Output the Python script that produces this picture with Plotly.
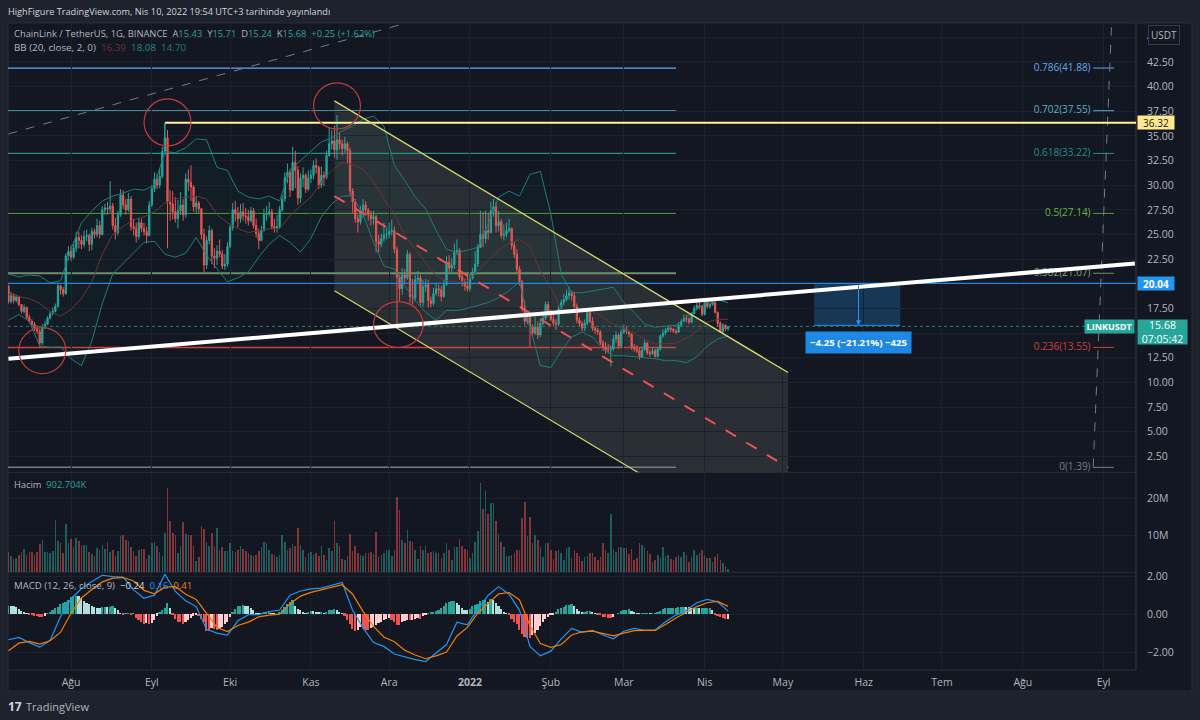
import pandas as pd
import plotly.graph_objects as go
from plotly.subplots import make_subplots

# daily candles, one row per month (Jul 8 2021 - Apr 10 2022)
opens = [
    19.8,18.2,18.9,18.3,18.7,17.9,17.2,17.6,16.6,16.2,15.9,15.5,15.2,14.0,15.6,15.9,16.5,17.0,17.2,17.7,19.8,19.4,19.0,22.8,
    23.3,22.7,23.6,24.7,24.4,24.0,24.8,24.9,24.0,25.3,25.0,25.9,25.0,27.5,27.7,27.6,27.9,25.9,25.2,27.0,29.0,28.0,27.5,28.6,25.8,25.6,24.8,26.2,25.6,25.3,24.9,
    28.0,29.6,30.6,30.0,30.9,33.4,34.8,28.3,28.1,27.3,26.6,27.4,28.0,27.0,30.6,30.3,29.8,27.8,28.2,27.6,25.0,21.9,24.4,25.4,22.8,22.6,23.3,23.0,21.8,22.0,
    23.8,25.7,27.5,27.1,26.6,27.3,26.9,26.8,26.4,27.4,25.9,25.1,24.4,25.4,27.0,27.1,27.3,25.8,25.6,25.8,27.5,28.6,30.8,31.3,29.5,32.3,31.5,28.7,30.7,31.0,29.6,
    30.7,31.0,32.0,31.8,30.0,31.0,30.8,33.0,34.2,34.5,33.6,34.6,34.2,33.7,34.2,33.5,29.4,28.3,26.6,26.3,27.4,28.0,27.5,27.0,26.6,26.8,24.3,24.0,24.6,25.0,
    25.0,25.3,25.4,23.5,20.7,19.5,20.9,20.6,23.0,18.7,18.6,20.4,20.6,18.1,19.7,19.9,18.3,18.0,19.0,19.5,19.4,18.7,19.9,22.2,21.6,21.9,23.2,23.4,20.7,20.2,19.8,
    19.5,20.6,21.2,22.0,23.7,25.0,24.6,25.4,25.2,27.4,27.8,25.9,26.3,24.9,25.0,25.4,25.6,23.9,23.0,21.5,20.2,17.6,16.2,16.6,15.7,15.0,15.6,14.8,16.0,16.5,17.9,
    17.0,16.4,16.0,15.9,17.5,18.1,18.4,18.8,19.1,18.8,17.7,16.3,15.95,15.5,16.0,17.1,16.2,15.5,15.3,15.1,14.0,13.6,13.3,13.3,13.4,14.4,14.8,13.7,
    15.1,15.4,15.2,14.9,13.6,13.4,13.2,12.6,13.3,14.0,13.0,12.9,13.2,12.65,13.4,14.7,15.0,15.3,15.5,15.4,15.2,15.1,15.8,16.2,16.5,16.4,16.1,17.0,17.5,17.8,17.7,
    16.9,18.1,17.7,17.9,18.1,17.1,16.0,15.1,15.8,15.43,
]
highs = [
    19.9,19.2,19.0,18.9,18.8,17.9,17.9,17.7,16.9,16.4,16.1,15.8,15.4,15.9,16.2,16.7,17.2,17.6,18.0,20.0,19.9,19.7,23.1,23.8,
    23.9,24.3,25.3,25.3,24.9,25.4,25.5,25.1,25.7,25.6,26.6,26.4,27.9,28.1,28.3,30.4,28.2,26.7,27.4,29.6,29.5,28.6,29.2,28.9,26.6,26.2,26.7,26.6,26.2,25.8,28.4,
    30.0,31.3,31.2,31.7,33.9,36.3,35.6,29.5,29.4,28.8,28.5,29.3,28.6,31.2,31.6,32.0,30.0,28.9,28.4,27.7,25.6,24.8,25.9,25.6,23.6,23.9,24.5,23.4,23.0,24.2,
    26.0,28.2,28.4,27.8,28.1,28.2,27.7,27.5,27.8,27.7,26.6,25.6,25.9,27.6,27.9,28.3,27.6,26.6,27.0,27.9,29.0,31.3,32.2,31.6,33.9,33.5,31.9,31.2,31.8,31.2,31.5,
    31.6,32.5,32.7,32.0,31.9,31.4,33.5,35.9,35.6,36.0,37.1,35.3,34.6,34.9,34.4,33.8,29.7,28.6,27.0,27.9,28.6,28.4,27.7,27.4,27.4,27.0,25.0,25.1,26.2,25.7,
    26.2,26.5,25.8,23.8,20.9,21.6,21.5,23.4,23.2,20.5,20.9,21.3,20.9,20.4,20.5,20.4,18.7,19.6,20.1,19.9,19.8,20.4,22.8,22.9,22.6,24.1,24.5,23.6,21.1,20.5,21.0,
    21.0,21.6,23.3,24.0,27.4,27.3,27.4,27.2,28.3,28.6,28.3,27.4,26.6,26.0,26.2,26.6,25.7,24.3,23.5,21.8,20.4,18.3,17.0,16.8,15.9,16.6,16.2,16.5,16.9,18.2,18.2,
    17.4,17.1,16.4,17.8,18.4,19.0,19.4,19.7,19.3,19.2,18.0,16.6,16.2,16.4,17.3,17.2,16.6,15.7,15.5,15.3,14.3,14.1,13.9,13.8,14.8,15.2,15.0,15.4,
    15.9,15.7,15.2,15.0,13.9,13.8,13.5,13.6,14.3,14.1,13.3,13.5,13.4,13.6,14.9,15.4,15.5,15.8,15.7,15.5,15.4,16.1,16.4,16.9,16.9,16.6,17.1,17.8,18.1,18.3,17.8,
    18.2,18.2,18.1,18.4,18.3,17.2,16.2,16.0,15.9,15.71,
]
lows = [
    18.0,18.0,18.0,18.1,17.7,17.0,17.0,16.4,16.0,15.6,15.2,14.9,13.55,13.8,15.4,15.8,16.4,16.8,17.1,17.6,18.9,18.7,18.9,22.4,
    22.3,22.5,23.2,23.6,23.5,23.7,24.3,23.3,23.4,24.6,24.7,24.6,24.9,27.0,27.0,27.2,25.5,24.5,24.9,26.8,27.6,27.0,27.3,25.4,24.9,24.2,24.5,25.2,24.9,24.1,24.8,
    27.8,29.3,29.6,29.7,30.7,33.0,23.6,26.4,26.5,26.2,25.6,27.0,26.4,26.7,29.4,28.4,27.3,27.1,27.1,24.5,21.2,21.5,24.0,22.0,21.6,21.9,22.7,21.5,21.4,21.7,
    23.6,25.4,26.3,25.7,26.2,26.4,26.1,25.9,26.2,25.6,24.7,23.5,24.3,25.3,26.4,26.8,25.5,25.2,25.2,25.6,27.3,28.3,30.2,28.8,29.4,29.7,28.0,28.2,29.8,29.2,29.4,
    30.2,30.6,31.2,29.6,29.7,29.9,30.6,32.9,33.6,32.8,32.6,33.6,33.0,33.3,32.2,28.9,27.2,26.2,25.2,26.0,26.7,26.9,26.4,25.9,26.0,23.2,23.2,23.7,24.3,24.5,
    24.6,24.9,23.1,15.9,18.3,18.9,20.0,20.4,18.0,17.9,18.2,20.0,17.8,17.7,19.2,17.6,17.6,17.8,18.8,18.7,18.2,18.6,19.8,21.2,21.2,21.5,22.9,20.4,19.7,19.3,19.2,
    19.2,20.4,20.9,21.7,24.2,23.7,24.1,24.5,25.1,26.8,25.2,25.3,24.6,24.4,24.7,25.2,23.5,22.6,21.1,19.8,17.2,15.8,15.9,13.6,14.6,14.8,14.4,14.6,15.8,16.3,16.7,
    16.2,15.7,15.3,15.7,17.3,17.8,18.2,18.4,18.3,17.4,16.0,15.7,15.2,15.2,15.8,16.0,15.2,14.9,14.8,13.8,13.2,12.9,12.9,11.6,13.2,14.0,13.4,13.5,
    14.9,14.9,14.6,13.3,13.1,13.0,12.3,12.5,13.2,12.8,12.6,12.8,12.5,12.5,13.2,14.5,14.8,15.1,15.1,15.0,14.9,15.0,15.7,16.1,16.1,15.9,16.0,16.9,17.3,17.4,16.7,
    16.8,17.5,17.5,17.8,17.0,15.7,15.0,14.9,15.2,15.24,
]
closes = [
    18.2,18.9,18.3,18.7,17.9,17.2,17.6,16.6,16.2,15.9,15.5,15.2,14.0,15.6,15.9,16.5,17.0,17.2,17.7,19.8,19.4,19.0,22.8,23.3,
    22.7,23.6,24.7,24.4,24.0,24.8,24.9,24.0,25.3,25.0,25.9,25.0,27.5,27.7,27.6,27.9,25.9,25.2,27.0,29.0,28.0,27.5,28.6,25.8,25.6,24.8,26.2,25.6,25.3,24.9,28.0,
    29.6,30.6,30.0,30.9,33.4,34.8,28.3,28.1,27.3,26.6,27.4,28.0,27.0,30.6,30.3,29.8,27.8,28.2,27.6,25.0,21.9,24.4,25.4,22.8,22.6,23.3,23.0,21.8,22.0,23.8,
    25.7,27.5,27.1,26.6,27.3,26.9,26.8,26.4,27.4,25.9,25.1,24.4,25.4,27.0,27.1,27.3,25.8,25.6,25.8,27.5,28.6,30.8,31.3,29.5,32.3,31.5,28.7,30.7,31.0,29.6,30.7,
    31.0,32.0,31.8,30.0,31.0,30.8,33.0,34.2,34.5,33.6,34.6,34.2,33.7,34.2,33.5,29.4,28.3,26.6,26.3,27.4,28.0,27.5,27.0,26.6,26.8,24.3,24.0,24.6,25.0,25.0,
    25.3,25.4,23.5,20.7,19.5,20.9,20.6,23.0,18.7,18.6,20.4,20.6,18.1,19.7,19.9,18.3,18.0,19.0,19.5,19.4,18.7,19.9,22.2,21.6,21.9,23.2,23.4,20.7,20.2,19.8,19.5,
    20.6,21.2,22.0,23.7,25.0,24.6,25.4,25.2,27.4,27.8,25.9,26.3,24.9,25.0,25.4,25.6,23.9,23.0,21.5,20.2,17.6,16.2,16.6,15.7,15.0,15.6,14.8,16.0,16.5,17.9,17.0,
    16.4,16.0,15.9,17.5,18.1,18.4,18.8,19.1,18.8,17.7,16.3,15.95,15.5,16.0,17.1,16.2,15.5,15.3,15.1,14.0,13.6,13.3,13.3,13.4,14.4,14.8,13.7,15.1,
    15.4,15.2,14.9,13.6,13.4,13.2,12.6,13.3,14.0,13.0,12.9,13.2,12.65,13.4,14.7,15.0,15.3,15.5,15.4,15.2,15.1,15.8,16.2,16.5,16.4,16.1,17.0,17.5,17.8,17.7,16.9,
    18.1,17.7,17.9,18.1,17.1,16.0,15.1,15.8,15.43,15.68,
]
# volume in millions
volume = [
    5.4,4.4,3.6,3.8,4.5,5.5,6.3,4.5,5.4,5.4,4.5,5.3,7.6,8.7,5.5,5.4,5.2,5.6,14.0,8.3,7.7,5.0,13.0,7.7,
    8.8,6.7,9.2,8.3,7.0,7.4,7.4,5.4,4.8,4.2,6.4,5.9,7.3,6.2,8.0,5.3,6.0,4.4,5.6,9.6,10.0,8.7,8.5,6.7,5.6,4.4,6.0,6.3,6.2,3.5,4.6,
    7.8,8.0,7.0,5.3,4.4,10.5,22.7,13.7,10.5,9.9,5.1,7.1,13.5,10.4,9.9,9.9,7.1,2.9,4.1,12.3,11.6,8.0,6.9,10.5,6.8,12.0,6.0,6.7,5.6,5.6,
    7.7,5.6,5.3,5.8,7.1,6.2,5.6,5.1,4.6,4.2,4.7,5.6,6.8,8.0,7.7,6.0,4.9,4.7,4.1,4.7,10.0,8.0,6.0,6.5,7.6,6.9,11.9,7.4,5.8,4.1,5.1,
    5.3,4.7,5.1,4.2,6.9,4.7,3.2,6.5,5.6,13.7,7.7,6.9,3.5,3.2,4.4,10.4,5.6,7.1,5.1,4.7,4.4,5.1,5.0,5.3,4.8,10.8,4.1,4.7,5.1,6.0,
    5.8,4.2,6.0,20.4,16.8,8.7,7.7,11.3,8.3,8.0,5.9,3.5,7.1,5.8,7.1,5.1,5.4,5.6,5.1,5.1,3.8,5.1,7.7,5.9,3.3,6.7,6.7,9.0,7.1,6.2,5.9,
    3.8,5.1,8.1,11.0,24.1,17.0,22.0,15.7,18.6,18.6,13.7,10.4,8.0,6.7,4.4,4.4,4.7,5.1,5.9,5.9,14.6,18.9,9.6,14.9,7.7,9.9,8.7,6.7,4.0,7.7,7.7,
    6.0,3.5,5.6,6.0,5.1,3.3,6.5,6.7,3.8,6.0,5.0,4.4,2.9,4.1,4.2,5.1,5.0,4.1,3.3,4.1,7.7,6.0,5.1,15.8,6.3,5.4,6.8,6.7,
    6.5,6.5,4.9,6.3,3.2,3.8,7.7,7.2,6.8,5.6,4.9,2.7,3.1,4.7,3.8,6.7,4.2,4.5,3.5,3.2,4.0,4.7,4.1,5.3,4.7,2.7,4.0,6.0,4.7,5.1,5.8,
    4.7,3.8,3.8,2.6,4.1,4.9,3.1,2.4,1.7,0.9,
]
macd_hist = [
    .44,.42,.40,.35,.25,.15,.1,.05,-.03,-.07,-.1,-.12,-.15,-.18,-.1,.05,.12,.2,.3,.35,.5,.6,.65,.75,
    .9,.95,.97,.93,.85,.7,.6,.5,.4,.35,.33,.3,.35,.38,.37,.38,.4,.3,.2,.03,-.03,.02,.02,-.02,.02,-.2,-.3,-.45,-.52,-.5,-.55,
    -.5,-.3,-.1,.1,.22,.3,.6,.33,-.05,-.25,-.4,-.45,-.55,-.45,-.3,-.2,-.1,-.08,-.12,-.25,-.4,-.9,-.9,-.75,-.8,-.85,-.8,-.7,-.55,-.4,
    -.18,.08,.25,.4,.42,.45,.42,.4,.3,.2,.05,.02,.03,.1,.12,.12,.05,.02,.0,.1,.2,.35,.55,.65,.72,.4,.25,.2,.12,.05,.12,
    .15,.13,.1,.08,.1,.05,.12,.2,.22,.25,.2,.12,.05,-.1,-.3,-.55,-.8,-.9,-.85,-.7,-.75,-.85,-.85,-.75,-.7,-.6,-.5,-.4,-.3,-.25,
    -.2,-.3,-.45,-.6,-.6,-.45,-.35,-.3,-.33,-.3,-.25,-.2,-.25,-.1,-.02,.05,.08,.12,.15,.2,.3,.42,.58,.63,.68,.7,.6,.45,.3,.22,.2,
    .25,.4,.45,.5,.7,.72,.75,.65,.78,.75,.6,.42,.25,.12,.05,-.08,-.25,-.4,-.55,-.85,-1.05,-1.2,-1.25,-1.25,-1.12,-1.0,-.85,-.65,-.45,-.25,-.15,
    -.08,-.03,.1,.25,.3,.37,.45,.48,.5,.42,.25,.15,.1,.1,.14,.14,.08,.02,-.02,-.04,-.15,-.18,-.2,-.22,-.17,.0,.04,.15,
    .2,.2,.25,.15,.1,.05,.02,.02,.03,.05,.04,.04,.05,.12,.18,.25,.3,.32,.33,.33,.34,.36,.37,.37,.36,.35,.33,.32,.32,.3,.3,
    .3,.3,.3,.2,-.05,-.12,-.17,-.22,-.25,-.24,
]

# indicator lines read every 4th day
bb_upper = [21.0,20.7,20.9,20.8,20.1,20.3,23.5,26.2,27.4,28.4,28.9,29.2,29.6,29.5,30.0,33.4,33.3,33.8,34.7,34.6,
            31.8,31.5,29.4,28.8,28.6,28.9,28.4,31.6,32.5,33.5,34.4,34.8,35.5,36.0,36.7,37.0,36.0,32.0,30.5,28.8,
            27.6,25.4,23.5,23.2,23.4,23.7,26.1,28.8,29.4,28.9,31.1,31.4,27.1,21.0,19.1,19.1,19.3,19.5,19.65,18.1,
            17.1,15.9,15.6,15.7,15.8,16.6,17.5,18.1,18.4,18.08]
bb_basis = [18.9,18.7,18.5,18.0,17.2,16.7,17.4,18.5,20.2,23.0,25.0,25.8,26.5,26.8,27.3,28.2,28.6,28.8,28.9,28.6,
            27.0,26.2,25.6,25.2,25.4,25.6,25.6,26.9,27.9,28.8,30.3,31.5,32.3,32.1,31.6,30.4,28.6,27.1,24.9,23.5,
            22.1,20.8,20.3,20.2,20.3,21.4,22.4,23.4,24.1,24.5,23.8,21.3,19.6,17.5,17.3,17.4,17.2,16.6,15.9,15.4,
            15.0,14.4,13.9,13.9,14.0,14.5,15.2,16.1,16.4,16.39]
bb_lower = [16.3,16.9,16.2,13.7,13.55,13.6,12.4,11.7,14.2,18.0,21.0,22.1,23.2,24.2,24.3,23.0,22.7,23.1,24.7,22.9,
            21.5,20.2,20.6,21.2,22.7,24.0,24.9,24.2,23.2,24.6,26.8,28.1,28.9,28.9,27.0,24.2,21.8,21.5,19.8,18.3,
            17.1,16.3,17.3,17.3,17.5,17.8,18.1,18.6,19.3,20.2,15.6,11.7,11.5,13.2,14.6,15.1,14.6,13.4,12.7,12.7,
            12.6,12.5,12.4,12.2,12.2,12.0,12.6,13.7,14.4,14.70]
macd_line = [-1.35,-1.23,-1.5,-1.74,-1.38,-.12,.8,1.35,1.72,2.05,1.98,1.95,1.28,.84,1.0,2.1,1.2,.7,.4,-.8,
             -1.0,-1.1,-.35,-.03,-.02,.14,.22,1.0,1.22,1.33,1.37,1.5,1.67,.2,-.72,-1.5,-1.7,-2.1,-2.25,-2.4,
             -2.5,-2.05,-1.6,-.42,-.56,.25,1.0,1.45,1.05,.2,-1.7,-2.2,-1.95,-1.3,-.75,-.96,-.85,-1.1,-1.3,-.9,
             -.75,-.85,-.83,-.4,-.05,.2,.6,.78,.65,.16]
macd_signal = [-1.93,-1.53,-1.44,-1.58,-1.4,-.95,.05,.85,1.3,1.7,1.9,1.93,1.75,1.25,1.07,1.42,1.45,1.05,.78,.05,
               -.7,-.92,-.6,-.42,-.14,-.05,.0,.55,.95,1.15,1.28,1.4,1.55,1.05,.15,-.65,-1.2,-1.45,-1.9,-2.15,
               -2.35,-2.2,-2.0,-1.15,-.7,.05,.55,1.07,1.14,.75,-.6,-1.55,-1.75,-1.6,-1.1,-.93,-.9,-1.0,-1.14,-1.0,
               -.87,-.86,-.86,-.55,-.2,.1,.4,.6,.67,.41]

# drawings on the chart
fib_levels = [41.88, 37.55, 33.22, 27.14, 21.07, 13.55, 1.39]
fib_labels = ["0.786(41.88)", "0.702(37.55)", "0.618(33.22)", "0.5(27.14)", "0.382(21.07)", "0.236(13.55)", "0(1.39)"]
fib_end = "2022-03-21"
channel_dates = ["2021-11-10", "2022-05-03"]
channel_top = [38.55, 11.0]
channel_mid = [28.9, 1.37]
channel_bottom = [19.3, -8.25]
trend_dates = ["2021-07-08", "2022-09-13"]
trend_prices = [12.4, 22.05]
high_line = 36.32
high_date = "2021-09-06"
high_wick_low = 33.6
blue_line = 20.04
last_price = 15.68
measure_dates = ["2022-05-13", "2022-06-15"]
measure_mid = "2022-05-30"
measure_prices = [20.04, 15.79]
measure_label_price = 14.05
ray1_dates = ["2021-07-08", "2021-12-07"]
ray1_prices = [35.2, 46.4]
ray2_dates = ["2022-08-28", "2022-09-04"]
ray2_prices = [1.39, 46.0]
fib_tick_dates = ["2022-08-28", "2022-09-05"]
circle_dates = [("2021-07-12", "2021-07-30"), ("2021-08-29", "2021-09-16"), ("2021-11-02", "2021-11-20"), ("2021-11-25", "2021-12-14")]
circle_prices = [(15.56, 10.9), (38.75, 33.99), (40.37, 35.7), (18.2, 13.54)]

# axis ticks
month_dates = ["2021-08-01", "2021-09-01", "2021-10-01", "2021-11-01", "2021-12-01", "2022-01-01", "2022-02-01",
               "2022-03-01", "2022-04-01", "2022-05-01", "2022-06-01", "2022-07-01", "2022-08-01", "2022-09-01"]
month_labels = ["Ağu", "Eyl", "Eki", "Kas", "Ara", "<b>2022</b>", "Şub", "Mar", "Nis", "May", "Haz", "Tem", "Ağu", "Eyl"]
price_ticks = [2.5, 5, 7.5, 10, 12.5, 15, 17.5, 20, 22.5, 25, 27.5, 30, 32.5, 35, 37.5, 40, 42.5, 45]
price_tick_labels = ["2.50", "5.00", "7.50", "10.00", "12.50", "", "17.50", "", "22.50", "25.00", "27.50", "30.00",
                     "32.50", "35.00", "37.50", "40.00", "42.50", "4"]

assert len(opens) == len(highs) == len(lows) == len(closes) == len(volume) == len(macd_hist) == 277, (
    len(opens), len(highs), len(lows), len(closes), len(volume), len(macd_hist))

dates = pd.date_range("2021-07-08", periods=len(closes))
line_dates = dates[::4]

BG = "#131722"
OUTER = "#1e222d"
GRID = "#1d212c"
TEXT = "#b2b5be"
UP = "#26a69a"
DOWN = "#ef5350"
FONT = "Open Sans"
fib_colors = ["#64a8f0", "#55b4c8", "#1f9186", "#4f9e3a", "#6f8f68", "#d0403c", "#787b86"]
fib_widths = [1.2, 1.2, 1.2, 1, 2, 1.5, 1.5]


def py(y):
    # the page draws the figure about 3px lower at the top
    return 1 - (y - 3) / 717


fig = make_subplots(rows=3, cols=1, shared_xaxes=True)

# bollinger bands
fig.add_trace(go.Scatter(x=line_dates, y=bb_upper, mode="lines", line=dict(color="#1f7f76", width=1), hoverinfo="skip"), row=1, col=1)
fig.add_trace(go.Scatter(x=line_dates, y=bb_lower, mode="lines", line=dict(color="#1f7f76", width=1),
                         fill="tonexty", fillcolor="rgba(38,166,154,0.04)", hoverinfo="skip"), row=1, col=1)
fig.add_trace(go.Scatter(x=line_dates, y=bb_basis, mode="lines", line=dict(color="#6e3438", width=1), hoverinfo="skip"), row=1, col=1)

fig.add_trace(go.Candlestick(x=dates, open=opens, high=highs, low=lows, close=closes,
                             increasing=dict(line=dict(color=UP, width=1), fillcolor=UP),
                             decreasing=dict(line=dict(color=DOWN, width=1), fillcolor=DOWN),
                             whiskerwidth=0), row=1, col=1)

# fib labels as a trace so the white trend line passes over them
fib_label_dates = ["2022-08-27"] * len(fib_levels)
label_colors = ["#64a8f0", "#55b4c8", "#1f9186", "#62b83e", "#7f9f78", "#d0403c", "#787b86"]
fig.add_trace(go.Scatter(x=fib_label_dates, y=fib_levels, mode="text", text=fib_labels, textposition="middle left",
                         textfont=dict(color=label_colors, size=10, family=FONT), hoverinfo="skip"), row=1, col=1)

vol_colors = ["rgba(38,166,154,0.5)" if c >= o else "rgba(239,83,80,0.5)" for o, c in zip(opens, closes)]
fig.add_trace(go.Bar(x=dates, y=volume, marker=dict(color=vol_colors, line_width=0), width=86400000 * 0.6), row=2, col=1)

hist_colors = []
for i, v in enumerate(macd_hist):
    prev = macd_hist[i - 1] if i else v
    if v >= 0:
        hist_colors.append(UP if v >= prev else "#b2dfdb")
    else:
        hist_colors.append(DOWN if v <= prev else "#ffcdd2")
fig.add_trace(go.Bar(x=dates, y=macd_hist, marker=dict(color=hist_colors, line_width=0), width=86400000 * 0.65), row=3, col=1)
fig.add_trace(go.Scatter(x=line_dates, y=macd_line, mode="lines", line=dict(color="#2196f3", width=1.2), hoverinfo="skip"), row=3, col=1)
fig.add_trace(go.Scatter(x=line_dates, y=macd_signal, mode="lines", line=dict(color="#f57c00", width=1.2), hoverinfo="skip"), row=3, col=1)

x_range = ["2021-07-07 20:00", "2022-09-13 10:00"]
x_domain = [8 / 1200, 1136 / 1200]
fig.update_xaxes(range=x_range, domain=x_domain, tickvals=month_dates, ticktext=month_labels, tickangle=0,
                 showgrid=True, gridcolor=GRID, gridwidth=1, zeroline=False, showline=False,
                 ticks="outside", ticklen=2, tickcolor="rgba(0,0,0,0)",
                 rangeslider_visible=False, tickfont=dict(color=TEXT, size=10.5, family=FONT))
fig.update_yaxes(side="right", showgrid=True, gridcolor=GRID, gridwidth=1, zeroline=False, showline=False,
                 ticks="outside", ticklen=8, tickcolor="rgba(0,0,0,0)", tickfont=dict(color=TEXT, size=10.5, family=FONT))
fig.update_yaxes(range=[0.88, 46.45], domain=[py(472), py(22)], tickvals=price_ticks, ticktext=price_tick_labels, row=1, col=1)
fig.update_yaxes(range=[0, 26.8], domain=[py(572), py(473)], tickvals=[10, 20], ticktext=["10M", "20M"], row=2, col=1)
fig.update_yaxes(range=[-2.947, 2.158], domain=[py(670), py(573)], tickvals=[-2, 0, 2], ticktext=["−2.00", "0.00", "2.00"], row=3, col=1)

shapes = []
# chart background and pane separators
shapes.append(dict(type="rect", xref="paper", yref="paper", x0=8 / 1200, x1=1192 / 1200, y0=py(691), y1=py(22),
                   fillcolor=BG, line=dict(color="#2a2e39", width=1), layer="below"))
for sep_y in (472, 572, 670):
    shapes.append(dict(type="line", xref="paper", yref="paper", x0=8 / 1200, x1=1136 / 1200, y0=py(sep_y), y1=py(sep_y),
                       line=dict(color="#2a2e39", width=1), layer="below"))
shapes.append(dict(type="line", xref="paper", yref="paper", x0=1136 / 1200, x1=1136 / 1200, y0=py(670), y1=py(22),
                   line=dict(color="#363a45", width=1), layer="above"))

# channel fill
path = "M {0},{2} L {1},{3} L {1},{4} L {0},{5} Z".format(channel_dates[0], channel_dates[1], channel_top[0], channel_top[1],
                                                          channel_bottom[1], channel_bottom[0])
shapes.append(dict(type="path", xref="x", yref="y", path=path, fillcolor="rgba(125,135,125,0.22)", line=dict(width=0), layer="below"))

# fib levels, left part and the short ticks on the right
for level, color, width in zip(fib_levels, fib_colors, fib_widths):
    shapes.append(dict(type="line", xref="x", yref="y", x0=x_range[0], x1=fib_end, y0=level, y1=level,
                       line=dict(color=color, width=width), layer="below"))
    shapes.append(dict(type="line", xref="x", yref="y", x0=fib_tick_dates[0], x1=fib_tick_dates[1], y0=level, y1=level,
                       line=dict(color=color, width=1)))

# dashed grey rays
shapes.append(dict(type="line", xref="x", yref="y", x0=ray1_dates[0], x1=ray1_dates[1], y0=ray1_prices[0], y1=ray1_prices[1],
                   line=dict(color="#787b86", width=1, dash="dash")))
shapes.append(dict(type="line", xref="x", yref="y", x0=ray2_dates[0], x1=ray2_dates[1], y0=ray2_prices[0], y1=ray2_prices[1],
                   line=dict(color="#787b86", width=1, dash="dash")))

# horizontal levels
shapes.append(dict(type="line", xref="x", yref="y", x0=x_range[0], x1=x_range[1], y0=blue_line, y1=blue_line,
                   line=dict(color="#1e88e5", width=1.4)))
shapes.append(dict(type="line", xref="x", yref="y", x0=x_range[0], x1=x_range[1], y0=last_price, y1=last_price,
                   line=dict(color="#1f7f76", width=1, dash="dot")))
shapes.append(dict(type="line", xref="x", yref="y", x0=high_date, x1=x_range[1], y0=high_line, y1=high_line,
                   line=dict(color="#fff3a0", width=2)))
shapes.append(dict(type="line", xref="x", yref="y", x0=high_date, x1=high_date, y0=high_line, y1=high_wick_low,
                   line=dict(color=UP, width=1)))

# channel edges
shapes.append(dict(type="line", xref="x", yref="y", x0=channel_dates[0], x1=channel_dates[1], y0=channel_top[0], y1=channel_top[1],
                   line=dict(color="#d8d86a", width=1.3)))
shapes.append(dict(type="line", xref="x", yref="y", x0=channel_dates[0], x1=channel_dates[1], y0=channel_bottom[0], y1=channel_bottom[1],
                   line=dict(color="#d8d86a", width=1.2)))
shapes.append(dict(type="line", xref="x", yref="y", x0=channel_dates[0], x1=channel_dates[1], y0=channel_mid[0], y1=channel_mid[1],
                   line=dict(color=DOWN, width=2, dash="12px,12px")))

# measure box
shapes.append(dict(type="rect", xref="x", yref="y", x0=measure_dates[0], x1=measure_dates[1], y0=measure_prices[1], y1=measure_prices[0],
                   fillcolor="rgba(33,150,243,0.25)", line=dict(width=0), layer="below"))
shapes.append(dict(type="line", xref="x", yref="y", x0=measure_dates[0], x1=measure_dates[1], y0=measure_prices[1], y1=measure_prices[1],
                   line=dict(color="#2196f3", width=1)))

# white trend line
shapes.append(dict(type="line", xref="x", yref="y", x0=trend_dates[0], x1=trend_dates[1], y0=trend_prices[0], y1=trend_prices[1],
                   line=dict(color="white", width=4)))

# red circles
for (d0, d1), (p0, p1) in zip(circle_dates, circle_prices):
    shapes.append(dict(type="circle", xref="x", yref="y", x0=d0, x1=d1, y0=p1, y1=p0, line=dict(color="#c23b3d", width=1.2)))

annotations = []


def note(text, x, y, size=10, color=TEXT, anchor="left", yanchor="middle", **kw):
    annotations.append(dict(text=text, x=x / 1200, y=py(y), xref="paper", yref="paper", xanchor=anchor, yanchor=yanchor,
                            showarrow=False, font=dict(size=size, color=color, family=FONT), **kw))


note("HighFigure TradingView.com, Nis 10, 2022 19:54 UTC+3 tarihinde yayınlandı", 6, 11, size=9.2, color="#d1d4dc")
note("ChainLink / TetherUS, 1G, BINANCE  A<span style='color:#26a69a'>15.43</span>  Y<span style='color:#26a69a'>15.71</span>"
     "  D<span style='color:#26a69a'>15.24</span>  K<span style='color:#26a69a'>15.68</span>  <span style='color:#26a69a'>+0.25 (+1.62%)</span>", 12, 33, size=9.4)
note("BB (20, close, 2, 0)  <span style='color:#6e3438'>16.39</span>  <span style='color:#1f8a80'>18.08</span>  <span style='color:#1f7f76'>14.70</span>", 12, 47, size=9.8)
note("Hacim  <span style='color:#26a69a'>902.704K</span>", 12, 484, size=9.3)
note("MACD (12, 26, close, 9)  <span style='color:#d1d4dc'>−0.24</span>  <span style='color:#2196f3'>0.16</span>  <span style='color:#f57c00'>0.41</span>", 12, 585, size=9.6)
note("<b>17</b>", 6, 706, size=12, color="#d1d4dc")
note("TradingView", 24, 706, size=11, color=TEXT)
note("USDT", 1164, 34, size=10, anchor="center", bgcolor=BG, bordercolor="#363a45", borderpad=2, borderwidth=1)


def price_tag(text, price, bg, fg, w, h, anchor="left", x=1137, yanchor="middle", yshift=0, size=10):
    annotations.append(dict(text=text, x=x / 1200, y=price, xref="paper", yref="y", xanchor=anchor, yanchor=yanchor,
                            yshift=yshift, showarrow=False, bgcolor=bg, borderpad=0, align="center", width=w, height=h,
                            font=dict(size=size, color=fg, family=FONT)))


price_tag("36.32", high_line, "#ffe98a", "#131722", 36, 13)
price_tag("<b>20.04</b>", blue_line, "#2196f3", "white", 36, 13)
price_tag("15.68<br>07:05:42", last_price, "#26a69a", "white", 49, 24, yanchor="top", yshift=7, size=10.5)
price_tag("<b>LINKUSDT</b>", last_price, "#26a69a", "white", 49, 13, anchor="right", x=1135, size=9)

# measure arrow and its label
annotations.append(dict(x=measure_mid, y=measure_prices[1], ax=measure_mid, ay=measure_prices[0], xref="x", yref="y", axref="x", ayref="y",
                        text="", showarrow=True, arrowhead=2, arrowsize=1, arrowwidth=1, arrowcolor="#2196f3"))
annotations.append(dict(x=measure_mid, y=measure_label_price, xref="x", yref="y", showarrow=False, text="<b>−4.25 (−21.21%) −425</b>",
                        bgcolor="#1e88e5", borderpad=4, font=dict(size=9.6, color="white", family=FONT)))

fig.update_layout(width=1200, height=720, margin=dict(l=0, r=0, t=0, b=0), paper_bgcolor=OUTER, plot_bgcolor="rgba(0,0,0,0)",
                  showlegend=False, bargap=0, shapes=shapes, annotations=annotations, font=dict(family=FONT, color=TEXT))

fig.write_html("out.html", config={"displayModeBar": False},
               post_script="document.body.style.margin='0';document.body.style.background='#1e222d';")
